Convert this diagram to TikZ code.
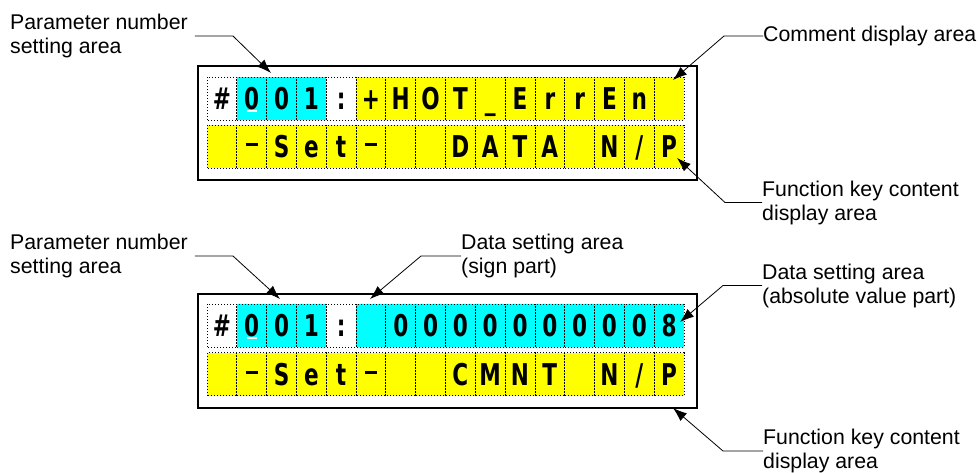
\documentclass[tikz,border=0pt]{standalone}
\usepackage{fontspec}
\setmainfont{Liberation Sans}
\newfontfamily\lcd[FakeStretch=0.72]{DejaVu Sans}
\usetikzlibrary{arrows.meta}
\definecolor{lcdyellow}{HTML}{FFFF00}
\definecolor{lcdcyan}{HTML}{00FFFF}
\newcommand\lcdslash{/}
\newcommand\lcddash{\rule[11.5pt]{12pt}{3pt}}
\tikzset{
  cell/.style={minimum width=29.8125pt, minimum height=43pt, inner sep=0pt, outer sep=0pt,
    text height=22pt, text depth=0pt, font=\fontsize{30}{30}\selectfont\lcd\bfseries},
  cellborder/.style={line width=0.8pt, dash pattern=on 1pt off 2pt},
  panel/.style={draw, line width=1.8pt, minimum width=499pt, minimum height=114pt,
    inner sep=0pt, anchor=north west},
  lbl/.style={font=\fontsize{21.3}{24}\selectfont, align=left, inner sep=0pt, anchor=west},
  leader/.style={line width=0.8pt, -{Latex[length=14pt,width=10pt]}},
  cursor/.style={white, line width=2pt}
}
\newcommand\lcdrow[3]{%
  \foreach \ch/\co [count=\i from 0] in {#3} {%
    \node[cell, fill=\co] (#1-\i) at ({207+(\i+0.5)*29.8125}, {#2+21.5}) {\ch};
  }
  \foreach \i in {0,...,15} {%
    \draw[cellborder] (#1-\i.south west) rectangle (#1-\i.north east);
  }
}
\begin{document}
\begin{tikzpicture}[x=1pt, y=-1pt]
\useasboundingbox (0,0) rectangle (978,472);

% panels
\node[panel] (box1) at (197,65) {};
\node[panel] (box2) at (197,293) {};

% top display
\lcdrow{a}{77}{\#/white, 0/lcdcyan, 0/lcdcyan, 1/lcdcyan, :/white, +/lcdyellow, H/lcdyellow, O/lcdyellow, T/lcdyellow, \_/lcdyellow, E/lcdyellow, r/lcdyellow, r/lcdyellow, E/lcdyellow, n/lcdyellow, {}/lcdyellow}
\lcdrow{b}{125}{{}/lcdyellow, \lcddash/lcdyellow, S/lcdyellow, e/lcdyellow, t/lcdyellow, \lcddash/lcdyellow, {}/lcdyellow, {}/lcdyellow, D/lcdyellow, A/lcdyellow, T/lcdyellow, A/lcdyellow, {}/lcdyellow, N/lcdyellow, \lcdslash/lcdyellow, P/lcdyellow}

% bottom display
\lcdrow{c}{304}{\#/white, 0/lcdcyan, 0/lcdcyan, 1/lcdcyan, :/white, {}/lcdcyan, 0/lcdcyan, 0/lcdcyan, 0/lcdcyan, 0/lcdcyan, 0/lcdcyan, 0/lcdcyan, 0/lcdcyan, 0/lcdcyan, 0/lcdcyan, 8/lcdcyan}
\lcdrow{d}{352.5}{{}/lcdyellow, \lcddash/lcdyellow, S/lcdyellow, e/lcdyellow, t/lcdyellow, \lcddash/lcdyellow, {}/lcdyellow, {}/lcdyellow, C/lcdyellow, M/lcdyellow, N/lcdyellow, T/lcdyellow, {}/lcdyellow, N/lcdyellow, \lcdslash/lcdyellow, P/lcdyellow}

% cursors
\draw[cursor] ([xshift=-5pt, yshift=-34pt]a-1.north) -- ([xshift=5pt, yshift=-34pt]a-1.north);
\draw[cursor] ([xshift=-5pt, yshift=-34pt]c-1.north) -- ([xshift=5pt, yshift=-34pt]c-1.north);

% labels
\node[lbl] (pn1) at (10,36) {Parameter number\\setting area};
\node[lbl] (cm)  at (763,36) {Comment display area};
\node[lbl] (fk1) at (762,202.5) {Function key content\\display area};
\node[lbl] (pn2) at (10,256) {Parameter number\\setting area};
\node[lbl] (ds)  at (461,256) {Data setting area\\(sign part)};
\node[lbl] (da)  at (762,285.5) {Data setting area\\(absolute value part)};
\node[lbl] (fk2) at (763,451) {Function key content\\display area};

% arrow tips
\coordinate (tip1) at (271,73);
\coordinate (tip2) at (673,80);
\coordinate (tip3) at (677,158);
\coordinate (tip4) at (280,299);
\coordinate (tip5) at (370,299);
\coordinate (tip6) at (680,322);
\coordinate (tip7) at (673,408);

% leaders
\draw[leader] ([xshift=7pt]pn1.east) -- ++(38,0) -- (tip1);
\draw[leader] (cm.west) -- ++(-39,0) -- (tip2);
\draw[leader] (fk1.west) -- ++(-37,0) -- (tip3);
\draw[leader] ([xshift=7pt]pn2.east) -- ++(38,0) -- (tip4);
\draw[leader] (ds.west) -- ++(-40,0) -- (tip5);
\draw[leader] (da.west) -- ++(-39,0) -- (tip6);
\draw[leader] (fk2.west) -- ++(-40,0) -- (tip7);
\end{tikzpicture}
\end{document}
